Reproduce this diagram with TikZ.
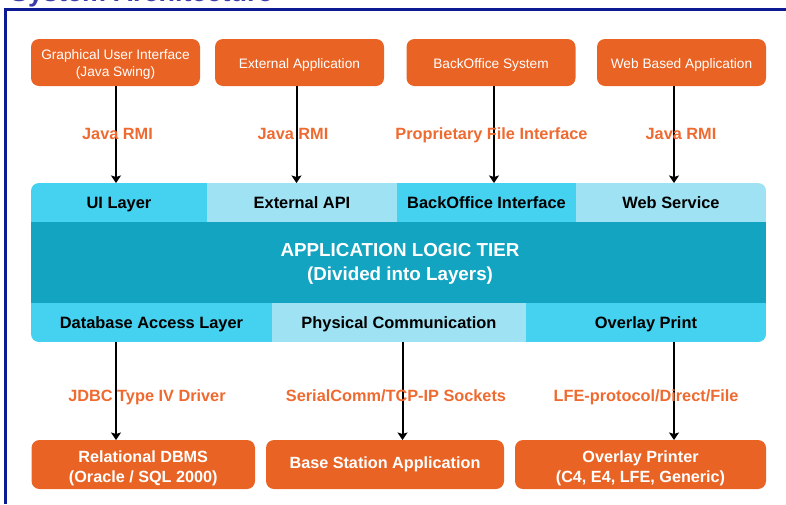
\documentclass[tikz,border=0pt]{standalone}
\usepackage{fontspec}
\setmainfont{Liberation Sans}
\usetikzlibrary{arrows.meta, positioning}

\definecolor{boxorange}{RGB}{233,100,36}
\definecolor{labelorange}{RGB}{238,106,48}
\definecolor{cyanbright}{RGB}{69,209,240}
\definecolor{cyanlight}{RGB}{158,226,244}
\definecolor{tierteal}{RGB}{19,164,193}
\definecolor{frameblue}{RGB}{12,26,148}
\definecolor{titleblue}{RGB}{60,60,170}

% struts to balance the text inside the boxes
\newcommand{\appstrut}{\rule{0pt}{1.06em}}
\newcommand{\storestrut}{\rule{0pt}{1.14em}}

\begin{document}
\begin{tikzpicture}[
    x=1pt, y=-1pt,
    app_block/.style={rectangle, fill=boxorange, text=white, rounded corners=8pt, minimum width=169pt, minimum height=47pt, inner sep=0pt, outer sep=0pt, align=center, font=\fontsize{13.7}{17}\selectfont},
    store_block/.style={rectangle, fill=boxorange, text=white, rounded corners=8pt, minimum height=49pt, inner sep=0pt, outer sep=0pt, align=center, font=\bfseries\fontsize{16.2}{20}\selectfont},
    layer_a/.style={rectangle, fill=cyanbright, inner sep=0pt, outer sep=0pt, text depth=0pt, font=\bfseries\fontsize{16.4}{19}\selectfont},
    layer_b/.style={layer_a, fill=cyanlight},
    link_label/.style={text=labelorange, inner sep=1pt, text depth=0pt, font=\bfseries\fontsize{16.3}{19}\selectfont},
    link_flow/.style={-{Stealth[length=7.5pt, width=10pt, inset=1.5pt]}, line width=2pt, black},
    frame_line/.style={draw=frameblue, line width=3pt}
]
    \useasboundingbox (0,0) rectangle (786,504);

    % Title and frame
    \node[anchor=base west, inner sep=0pt, text=titleblue, font=\bfseries\fontsize{27}{27}\selectfont] (title) at (10,1.5) {System Architecture};
    \draw[frame_line] (5.5,504) -- (5.5,9.5) -- (786,9.5);

    % Client applications
    \node[app_block] (gui) at (115.5,62.5) {\appstrut Graphical User Interface\\(Java Swing)};
    \node[app_block] (extapp) at (299.5,62.5) {\appstrut External Application};
    \node[app_block] (backoffice) at (491,62.5) {\appstrut BackOffice System};
    \node[app_block] (webapp) at (681.5,62.5) {\appstrut Web Based Application};

    % Application logic tier
    \begin{scope}
        \clip[rounded corners=8pt] (31,183) rectangle (766,342);
        \node[layer_a, minimum width=176pt, minimum height=39pt, anchor=north west] (ui) at (31,183) {UI Layer};
        \node[layer_b, minimum width=190pt, minimum height=39pt, right=0pt of ui] (extapi) {External API};
        \node[layer_a, minimum width=179pt, minimum height=39pt, right=0pt of extapi] (boi) {BackOffice Interface};
        \node[layer_b, minimum width=190pt, minimum height=39pt, right=0pt of boi] (websvc) {Web Service};
        \node[rectangle, fill=tierteal, minimum width=735pt, minimum height=81pt, inner sep=0pt, outer sep=0pt, anchor=north west] (tier) at (ui.south west) {};
        \node[layer_a, minimum width=241pt, minimum height=39pt, anchor=north west] (dal) at (tier.south west) {Database Access Layer};
        \node[layer_b, minimum width=254pt, minimum height=39pt, right=0pt of dal] (physcomm) {Physical Communication};
        \node[layer_a, minimum width=240pt, minimum height=39pt, right=0pt of physcomm] (ovprint) {Overlay Print};
    \end{scope}
    \node[text=white, align=center, font=\bfseries\fontsize{18.8}{23.2}\selectfont] (tiertext) at (400,263.8) {APPLICATION LOGIC TIER\\(Divided into Layers)};

    % Back-end systems
    \node[store_block, minimum width=223.5pt] (rdbms) at (143.25,464.5) {\storestrut Relational DBMS\\(Oracle / SQL 2000)};
    \node[store_block, minimum width=238pt] (basestation) at (385,464.5) {Base Station Application};
    \node[store_block, minimum width=251pt] (ovprinter) at (640.5,464.5) {\storestrut Overlay Printer\\(C4, E4, LFE, Generic)};

    % Connections to the tier
    \coordinate (t1) at ([xshift=0.5pt]gui.south);
    \coordinate (t2) at ([xshift=-3pt]extapp.south);
    \coordinate (t3) at ([xshift=3pt]backoffice.south);
    \coordinate (t4) at ([xshift=-7.5pt]webapp.south);
    \draw[link_flow] (t1) -- (t1 |- ui.north);
    \draw[link_flow] (t2) -- (t2 |- ui.north);
    \draw[link_flow] (t3) -- (t3 |- ui.north);
    \draw[link_flow] (t4) -- (t4 |- ui.north);

    \node[link_label] (rmi1) at (117.5,134) {Java RMI};
    \node[link_label] (rmi2) at (293,134) {Java RMI};
    \node[link_label] (pfi) at (491.5,134) {Proprietary File Interface};
    \node[link_label] (rmi3) at (681,134) {Java RMI};

    % Connections from the tier
    \coordinate (b1) at (116,342);
    \coordinate (b2) at (402.5,342);
    \coordinate (b3) at (674,342);
    \draw[link_flow] (b1) -- (b1 |- rdbms.north);
    \draw[link_flow] (b2) -- (b2 |- basestation.north);
    \draw[link_flow] (b3) -- (b3 |- ovprinter.north);

    \node[link_label] (jdbc) at (147,395.3) {JDBC Type IV Driver};
    \node[link_label] (sockets) at (396,395.3) {SerialComm/TCP-IP Sockets};
    \node[link_label] (lfe) at (646,395.3) {LFE-protocol/Direct/File};

\end{tikzpicture}
\end{document}
